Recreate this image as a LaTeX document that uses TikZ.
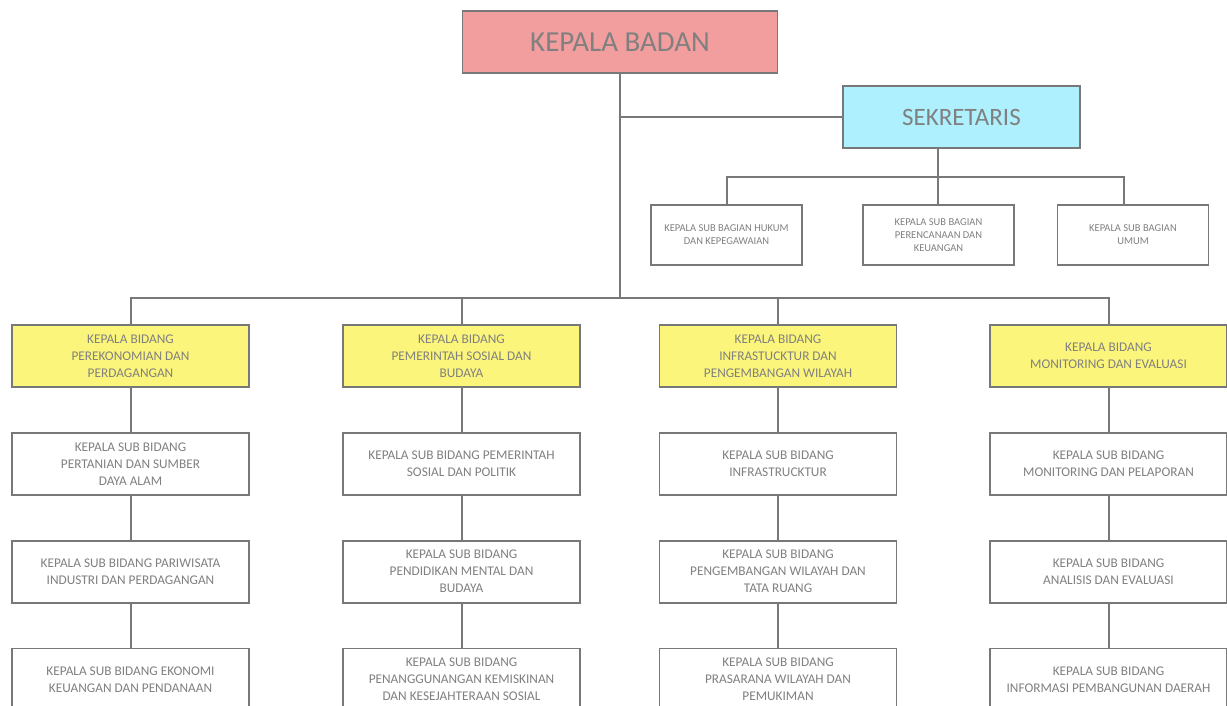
\documentclass[tikz,border=0pt]{standalone}
\usepackage{fontspec}
\setmainfont{Carlito}
\usetikzlibrary{positioning}
\definecolor{badan}{HTML}{F29E9E}
\definecolor{sekre}{HTML}{AEF0FD}
\definecolor{bidang}{HTML}{FBF57C}
\definecolor{garis}{HTML}{787878}
\definecolor{teks}{HTML}{808080}

\begin{document}
\begin{tikzpicture}[x=1pt,y=-1pt,line width=2pt,draw=garis,
  box/.style={rectangle,draw=garis,line width=1.8pt,text=teks,align=center,inner sep=0pt},
  kepala/.style={box,minimum width=315pt,minimum height=62pt,fill=badan,font=\fontsize{29}{32}\selectfont},
  sekretaris/.style={box,minimum width=237pt,minimum height=62pt,fill=sekre,font=\fontsize{25}{28}\selectfont},
  bagian/.style={box,minimum width=151pt,minimum height=60pt,fill=white,font=\fontsize{10.5}{13}\selectfont},
  bidang/.style={box,minimum width=237pt,minimum height=62pt,fill=bidang,font=\fontsize{13.3}{17}\selectfont},
  subbidang/.style={box,minimum width=237pt,minimum height=62pt,fill=white,font=\fontsize{13.3}{17}\selectfont},
  node distance=44pt]

  \useasboundingbox (0,0) rectangle (1227,705);
  \clip (0,0) rectangle (1227,705);

  \node[kepala] (badan) at (620,42) {KEPALA BADAN};
  \node[sekretaris] (sekre) at (961.5,117) {SEKRETARIS};

  \node[bagian] (bag1) at (726.5,235) {KEPALA SUB BAGIAN HUKUM\\DAN KEPEGAWAIAN};
  \node[bagian] (bag2) at (938.5,235) {KEPALA SUB BAGIAN\\PERENCANAAN DAN\\KEUANGAN};
  \node[bagian] (bag3) at (1133,235) {KEPALA SUB BAGIAN\\UMUM};

  \node[bidang] (bid1) at (130.5,356) {KEPALA BIDANG\\PEREKONOMIAN DAN\\PERDAGANGAN};
  \node[bidang] (bid2) at (461.5,356) {KEPALA BIDANG\\PEMERINTAH SOSIAL DAN\\BUDAYA};
  \node[bidang] (bid3) at (778,356) {KEPALA BIDANG\\INFRASTUCKTUR DAN\\PENGEMBANGAN WILAYAH};
  \node[bidang] (bid4) at (1108.5,356) {KEPALA BIDANG\\MONITORING DAN EVALUASI};

  \node[subbidang] (sub11) [below=of bid1] {KEPALA SUB BIDANG\\PERTANIAN DAN SUMBER\\DAYA ALAM};
  \node[subbidang] (sub12) [below=of sub11] {KEPALA SUB BIDANG PARIWISATA\\INDUSTRI DAN PERDAGANGAN};
  \node[subbidang] (sub13) [below=of sub12] {KEPALA SUB BIDANG EKONOMI\\KEUANGAN DAN PENDANAAN};

  \node[subbidang] (sub21) [below=of bid2] {KEPALA SUB BIDANG PEMERINTAH\\SOSIAL DAN POLITIK};
  \node[subbidang] (sub22) [below=of sub21] {KEPALA SUB BIDANG\\PENDIDIKAN MENTAL DAN\\BUDAYA};
  \node[subbidang] (sub23) [below=of sub22] {KEPALA SUB BIDANG\\PENANGGUNANGAN KEMISKINAN\\DAN KESEJAHTERAAN SOSIAL};

  \node[subbidang] (sub31) [below=of bid3] {KEPALA SUB BIDANG\\INFRASTRUCKTUR};
  \node[subbidang] (sub32) [below=of sub31] {KEPALA SUB BIDANG\\PENGEMBANGAN WILAYAH DAN\\TATA RUANG};
  \node[subbidang] (sub33) [below=of sub32] {KEPALA SUB BIDANG\\PRASARANA WILAYAH DAN\\PEMUKIMAN};

  \node[subbidang] (sub41) [below=of bid4] {KEPALA SUB BIDANG\\MONITORING DAN PELAPORAN};
  \node[subbidang] (sub42) [below=of sub41] {KEPALA SUB BIDANG\\ANALISIS DAN EVALUASI};
  \node[subbidang] (sub43) [below=of sub42] {KEPALA SUB BIDANG\\INFORMASI PEMBANGUNAN DAERAH};

  % garis kepala badan dan sekretaris
  \coordinate (bus) at (620,298);
  \coordinate (sbus) at (938,177);
  \draw (badan) -- (bus);
  \draw (badan.south |- sekre.west) -- (sekre.west);
  \draw (sekre.south -| sbus) -- (sbus);
  \draw (bag1.north) |- (sbus) -| ([xshift=-9pt]bag3.north);
  \draw (sbus) -- (bag2.north -| sbus);

  % garis bidang
  \draw (bid1.north) |- (bus) -| (bid4.north);
  \draw (bid2.north) -- (bid2.north |- bus);
  \draw (bid3.north) -- (bid3.north |- bus);
  \foreach \i in {1,...,4}
    \draw (bid\i) -- (sub\i1) -- (sub\i2) -- (sub\i3);

\end{tikzpicture}
\end{document}
